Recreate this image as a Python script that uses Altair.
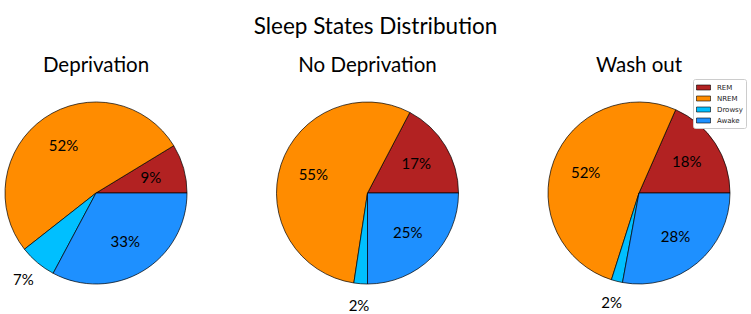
import math
import altair as alt
import pandas as pd

# ---- data ----
groups = ["Deprivation", "No Deprivation", "Wash out"]
states = ["REM", "NREM", "Drowsy", "Awake"]
colors = ["#B22222", "#FF8C00", "#00BFFF", "#1E90FF"]
deprivation = [8.7, 51.9, 6.6, 32.8]
no_deprivation = [17.3, 55.3, 2.4, 25.0]
wash_out = [18.4, 51.7, 2.0, 27.9]
# slices go counter-clockwise from 3 o'clock (REM first) -> clockwise order from 3 o'clock
draw_order = {"Awake": 0, "Drowsy": 1, "NREM": 2, "REM": 3}

rows = []
for g, vals in zip(groups, [deprivation, no_deprivation, wash_out]):
    for s, v in zip(states, vals):
        rows.append({"group": g, "state": s, "value": v, "ord": draw_order[s]})
df = pd.DataFrame(rows)
titles_df = pd.DataFrame({"group": groups})

FONT = "Lato"
CY = 193
R = 91
theta_scale = alt.Scale(domain=[0, 1], range=[math.pi / 2, math.pi / 2 + 2 * math.pi])
x_scale = alt.Scale(type="point", domain=groups, range=[96, 639], padding=0)
x_enc = alt.X("group:N", scale=x_scale, axis=None)

base = (
    alt.Chart(df)
    .transform_joinaggregate(total="sum(value)", groupby=["group"])
    .transform_calculate(frac="datum.value / datum.total")
    .transform_window(cum="sum(frac)", groupby=["group"],
                      sort=[alt.SortField("ord")], frame=[None, 0])
    .transform_calculate(start="datum.cum - datum.frac",
                         mid="datum.cum - datum.frac / 2")
)

arcs = base.mark_arc(stroke="black", strokeWidth=0.7).encode(
    x=x_enc,
    y=alt.value(CY),
    theta=alt.Theta("start:Q", scale=theta_scale, stack=None),
    theta2="cum:Q",
    radius=alt.value(R),
    color=alt.Color(
        "state:N",
        scale=alt.Scale(domain=states, range=colors),
        legend=alt.Legend(
            title=None, orient="none", legendX=693, legendY=79,
            labelFont="DejaVu Sans", labelFontSize=7, labelColor="#222",
            symbolType="M-1,-0.5H1.8V0.5H-1Z", symbolSize=100,
            symbolStrokeColor="black", symbolStrokeWidth=0.6,
            labelOffset=10, padding=3, rowPadding=1,
            fillColor="white", strokeColor="#cccccc", cornerRadius=2,
        ),
    ),
)

inner = base.transform_filter("datum.frac >= 0.08").mark_text(
    font=FONT, fontSize=15, color="black", baseline="middle", align="center"
).encode(
    x=x_enc,
    y=alt.value(CY),
    theta=alt.Theta("mid:Q", scale=theta_scale, stack=None),
    radius=alt.value(57),
    text=alt.Text("frac:Q", format=".0%"),
)

outer = base.transform_filter("datum.frac < 0.08").mark_text(
    font=FONT, fontSize=15, color="black", baseline="middle", align="center"
).encode(
    x=x_enc,
    y=alt.value(CY),
    theta=alt.Theta("mid:Q", scale=theta_scale, stack=None),
    radius=alt.value(113),
    text=alt.Text("frac:Q", format=".0%"),
)

subtitles = alt.Chart(titles_df).mark_text(
    font=FONT, fontSize=20.5, color="black", baseline="alphabetic", align="center"
).encode(
    x=x_enc,
    y=alt.value(72),
    text="group:N",
)

chart = (
    alt.layer(arcs, inner, outer, subtitles)
    .properties(
        width=751, height=314, padding=0, autosize="none",
        title=alt.TitleParams(
            "Sleep States Distribution", font=FONT, fontSize=22.5,
            fontWeight="normal", color="black", anchor="middle",
            baseline="alphabetic", offset=0, dy=56,
        ),
    )
    .configure_view(stroke=None)
)

chart.save("out.html", embed_options={"renderer": "svg", "actions": False})
